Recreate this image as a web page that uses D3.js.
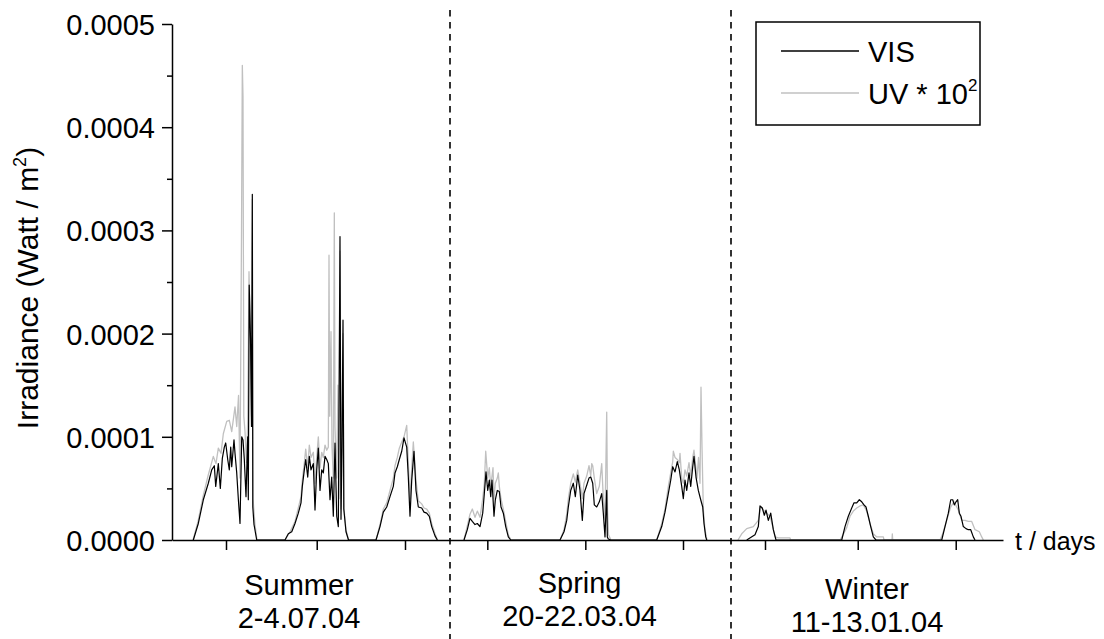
<!DOCTYPE html>
<html>
<head>
<meta charset="utf-8">
<script src="https://cdn.jsdelivr.net/npm/d3@7"></script>
<style>
  html, body { margin: 0; padding: 0; background: #fff; }
  svg { display: block; font-family: "Liberation Sans", Arial, sans-serif; }
</style>
</head>
<body>
<svg id="chart" width="1104" height="639"></svg>
<script>
// Irradiance measured over three days in each season.
// Time t is in elapsed hours of plotted record (seasons concatenated),
// irradiance values are in µW/m² (10^-6 W/m²); UV values already multiplied by 10^2.

const summerVis = [
  [5.33,0],[6.58,16],[7.83,39],[9.08,55],[9.93,68],[10.58,72],[10.93,52],[11.58,74],[12.08,50],[12.58,79],
  [13.08,90],[13.43,94],[13.93,78],[14.33,68],[14.68,90],[14.93,71],[15.5,97],[15.75,84],[16.18,65],[16.58,40],
  [17.0,16],[17.43,100],[17.75,97],[18.08,78],[18.5,42],[18.93,100],[19.08,39],[19.3,247],[19.63,195],[19.88,110],
  [20.08,335],[20.2,32],[20.5,15],[21.18,0],
  [28.25,0],[29.08,6],[29.93,8],[30.75,16],[31.58,26],[32.25,36],[32.58,52],[33.08,68],[33.43,78],[33.93,61],
  [34.33,81],[34.75,68],[35.33,74],[35.75,29],[36.18,68],[36.58,89],[37.0,48],[37.43,68],[37.83,65],[38.25,81],
  [38.68,78],[39.08,74],[39.5,39],[39.93,61],[40.33,23],[40.75,94],[41.18,23],[41.58,13],[42.0,294],[42.25,20],
  [42.5,90],[42.75,213],[42.95,30],[43.5,8],[44.13,0],
  [51.0,0],[52.0,13],[52.83,27],[53.68,32],[54.5,42],[55.33,52],[55.75,65],[56.33,71],[56.83,78],[57.43,86],
  [58.0,99],[58.68,90],[59.08,61],[59.5,23],[59.93,58],[60.5,86],[61.0,48],[61.58,32],[62.43,31],[63.0,27],
  [63.68,26],[64.33,23],[64.93,13],[65.75,4],[66.33,0]
];

const summerUv = [
  [5.25,0],[6.5,18],[7.75,42],[9.0,62],[10.33,81],[11.0,74],[11.58,89],[12.25,84],[12.83,103],[13.68,115],
  [14.33,116],[14.93,105],[15.75,129],[16.18,110],[16.63,140],[17.0,60],[17.38,300],[17.58,460],[17.75,430],[17.95,120],
  [18.25,105],[18.63,75],[18.93,115],[19.25,260],[19.58,200],[19.88,120],[20.08,330],[20.25,40],[20.75,15],[21.25,0],
  [28.25,0],[29.5,8],[30.75,18],[31.5,30],[32.25,42],[32.58,58],[33.08,75],[33.43,88],[33.93,70],[34.33,92],
  [34.75,80],[35.33,85],[35.75,55],[36.18,80],[36.58,100],[37.0,70],[37.43,85],[37.83,80],[38.25,92],[38.68,87],
  [39.08,90],[39.25,276],[39.43,120],[39.75,202],[40.0,90],[40.33,60],[40.58,317],[40.75,110],[41.18,60],[41.5,150],
  [41.75,40],[42.0,280],[42.25,30],[42.5,100],[42.75,200],[43.0,30],[43.5,10],[44.13,0],
  [51.0,0],[52.0,15],[52.83,30],[53.68,36],[54.5,48],[55.33,60],[55.75,72],[56.33,80],[56.83,89],[57.43,95],
  [58.0,100],[58.68,111],[59.08,75],[59.5,40],[59.93,70],[60.33,95],[61.0,58],[61.58,38],[62.43,35],[63.0,31],
  [63.68,30],[64.33,26],[64.93,16],[65.75,6],[66.38,0]
];

const springVis = [
  [73.0,0],[73.83,10],[74.5,21],[75.08,18],[75.75,15],[76.33,16],[77.0,13],[77.68,26],[78.08,45],[78.5,66],
  [78.93,48],[79.33,58],[79.68,42],[80.0,58],[80.5,23],[80.83,39],[81.33,48],[81.83,47],[82.25,32],[82.83,26],
  [83.43,13],[84.08,3],[84.68,0],
  [97.0,0],[98.0,8],[98.68,19],[99.08,32],[99.68,48],[100.33,55],[100.83,42],[101.43,63],[102.0,48],[102.58,19],
  [103.0,45],[103.68,53],[104.25,60],[104.68,61],[105.18,55],[105.58,34],[106.18,32],[106.83,37],[107.43,45],[107.83,26],
  [108.25,3],[108.68,48],[108.83,3],[109.08,1],[109.68,0],
  [121.18,0],[122.43,13],[123.25,27],[124.08,45],[124.68,58],[125.18,71],[125.75,66],[126.33,76],[126.83,68],[127.43,52],
  [127.83,40],[128.25,58],[128.68,48],[129.25,65],[129.68,52],[130.18,71],[130.5,81],[131.0,61],[131.58,48],[132.18,39],
  [132.68,32],[133.0,16],[133.43,3],[133.68,0]
];

const springUv = [
  [73.0,0],[73.83,14],[74.5,25],[75.08,30],[75.75,22],[76.33,28],[77.0,22],[77.68,40],[78.08,55],[78.43,86],
  [78.93,60],[79.33,70],[79.68,52],[80.0,62],[80.25,70],[80.5,40],[80.83,55],[81.33,60],[81.58,65],[81.83,52],
  [82.25,40],[82.83,30],[83.43,18],[84.08,5],[84.75,0],
  [97.0,0],[98.0,10],[98.68,25],[99.08,40],[99.68,55],[100.33,64],[100.83,56],[101.43,68],[102.0,55],[102.58,40],
  [103.0,55],[103.68,62],[104.25,72],[104.68,62],[104.93,74],[105.18,72],[105.58,60],[106.18,45],[106.83,52],[107.43,74],
  [107.83,40],[108.25,20],[108.68,124],[108.88,30],[109.13,5],[109.75,0],
  [121.18,0],[122.43,16],[123.25,30],[124.08,52],[124.68,65],[125.18,76],[125.33,86],[125.75,80],[126.33,78],[126.83,75],
  [127.0,84],[127.43,60],[127.83,55],[128.25,68],[128.68,62],[129.25,75],[129.68,62],[130.18,80],[130.5,87],[130.83,75],
  [131.25,60],[131.63,80],[132.0,55],[132.25,148],[132.5,90],[132.83,30],[133.25,10],[133.75,0]
];

const winterVis = [
  [143.68,0],[145.75,5],[146.58,13],[147.0,33],[147.58,31],[148.08,24],[148.5,29],[149.08,19],[149.68,26],[150.33,10],
  [151.0,0],
  [167.43,0],[168.25,13],[169.08,23],[169.93,31],[170.5,36],[171.18,36],[171.83,39],[172.43,37],[173.0,34],[173.5,32],
  [174.08,23],[174.68,13],[175.33,3],[176.0,0],
  [192.43,0],[193.25,13],[194.08,26],[194.68,39],[195.18,39],[195.58,34],[196.0,37],[196.43,39],[196.83,26],[197.25,23],
  [197.83,13],[198.5,11],[199.08,10],[199.68,10],[200.33,3],[200.75,0]
];

const winterUv = [
  [141.5,0],[142.43,6],[143.68,11],[145.33,13],[146.58,19],[147.18,32],[147.83,29],[148.68,26],[149.5,23],[150.18,13],
  [150.75,3],[151.58,2],[154.5,2],[154.63,0],
  [167.0,0],[167.75,5],[168.68,12],[169.5,23],[170.33,28],[171.18,31],[172.0,33],[172.83,34],[173.68,28],[174.5,16],
  [175.33,6],[176.18,3],[177.83,3],[178.0,0],[180.0,0],[180.08,6],[180.18,0],
  [192.0,0],[192.68,6],[193.68,19],[194.68,32],[195.5,37],[196.58,29],[197.43,19],[198.25,19],[199.08,18],[199.93,18],
  [200.75,10],[201.83,8],[202.43,3],[202.83,0]
];

// Noon of each measured day (x-axis ticks) and season boundaries
const dayTicks = [13.5, 36.18, 58.25, 78.83, 103.33, 127.75, 148.25, 171.43, 195.93];
const seasonBounds = [69.5, 139.75];
const seasonNames = ["Summer", "Spring", "Winter"];
const seasonDates = ["2-4.07.04", "20-22.03.04", "11-13.01.04"];
const seasonCenters = [31.75, 101.9, 173.75];

// y ticks in µW/m², labelled in W/m²
const yTicks = [0, 100, 200, 300, 400, 500];
const yTickLabels = ["0.0000", "0.0001", "0.0002", "0.0003", "0.0004", "0.0005"];
const yMinorTicks = [50, 150, 250, 350, 450];

const svg = d3.select("#chart");
const margin = { left: 172, right: 101, top: 24, bottom: 99 };
const W = 1104, H = 639;

const x = d3.scaleLinear().domain([0, 207.75]).range([margin.left, W - margin.right]);
const y = d3.scaleLinear().domain([0, 500]).range([H - margin.bottom, margin.top]);

const line = d3.line().x(d => x(d[0])).y(d => y(d[1]));

// season separators
svg.append("g").selectAll("line").data(seasonBounds).join("line")
  .attr("x1", d => x(d)).attr("x2", d => x(d))
  .attr("y1", 10).attr("y2", H)
  .attr("stroke", "#000").attr("stroke-width", 1.6)
  .attr("stroke-dasharray", "6.5,5.5");

// UV (grey) below VIS (black)
const uvSeries = [summerUv, springUv, winterUv];
const visSeries = [summerVis, springVis, winterVis];
svg.append("g").selectAll("path").data(uvSeries).join("path")
  .attr("d", line).attr("fill", "none").attr("stroke", "#c0c0c0").attr("stroke-width", 1.3)
  .attr("stroke-linejoin", "round");
svg.append("g").selectAll("path").data(visSeries).join("path")
  .attr("d", line).attr("fill", "none").attr("stroke", "#000").attr("stroke-width", 1.2)
  .attr("stroke-linejoin", "round");

// y axis: major ticks with labels, minor ticks without
const yAxis = svg.append("g").attr("transform", `translate(${margin.left},0)`)
  .call(d3.axisLeft(y).tickValues(yTicks).tickSize(10).tickSizeOuter(0)
    .tickFormat((d, i) => yTickLabels[i]));
svg.append("g").attr("transform", `translate(${margin.left},0)`)
  .call(d3.axisLeft(y).tickValues(yMinorTicks).tickSize(5).tickFormat(""))
  .call(g => g.select(".domain").remove());
yAxis.selectAll("text").attr("font-size", 29).attr("font-family", "Liberation Sans, Arial, sans-serif")
  .attr("fill", "#000").attr("x", -17).attr("dy", "0.36em");

// x axis: ticks at each day
svg.append("g").attr("transform", `translate(0,${y(0)})`)
  .call(d3.axisBottom(x).tickValues(dayTicks).tickSize(10).tickSizeOuter(0).tickFormat(""));

svg.selectAll(".domain, .tick line").attr("stroke", "#000").attr("stroke-width", 1.5);

// axis titles
svg.append("text")
  .attr("transform", `translate(38,${(y(0) + y(500)) / 2 + 6}) rotate(-90)`)
  .attr("text-anchor", "middle").attr("font-size", 30).attr("fill", "#000")
  .call(t => {
    t.append("tspan").text("Irradiance (Watt / m");
    t.append("tspan").text("2").attr("font-size", 18).attr("dy", -12);
    t.append("tspan").text(")").attr("dy", 12);
  });

svg.append("text").attr("x", x(207.75) + 12).attr("y", y(0) + 10)
  .attr("font-size", 25).attr("fill", "#000").text("t / days");

// season labels (name above date range)
const seasonBase = [595, 593, 599];
svg.append("g").selectAll("text").data(seasonNames).join("text")
  .attr("x", (d, i) => x(seasonCenters[i])).attr("y", (d, i) => seasonBase[i])
  .attr("text-anchor", "middle").attr("font-size", 29).attr("fill", "#000").text(d => d);
svg.append("g").selectAll("text").data(seasonDates).join("text")
  .attr("x", (d, i) => x(seasonCenters[i])).attr("y", (d, i) => seasonBase[i] + 33)
  .attr("text-anchor", "middle").attr("font-size", 29).attr("fill", "#000").text(d => d);

// legend
const legend = svg.append("g").attr("transform", "translate(756,22)");
legend.append("rect").attr("width", 224).attr("height", 103)
  .attr("fill", "#fff").attr("stroke", "#000").attr("stroke-width", 1.5);
const legendItems = [
  { label: "VIS", color: "#000" },
  { label: "UV * 10", sup: "2", color: "#c0c0c0" }
];
legendItems.forEach((item, i) => {
  const cy = 29 + i * 42;
  legend.append("line").attr("x1", 25).attr("x2", 103).attr("y1", cy).attr("y2", cy)
    .attr("stroke", item.color).attr("stroke-width", 1.3);
  const t = legend.append("text").attr("x", 112).attr("y", cy + 10.5)
    .attr("font-size", 29).attr("fill", "#000");
  t.append("tspan").text(item.label);
  if (item.sup) t.append("tspan").text(item.sup).attr("font-size", 17).attr("dy", -13);
});
</script>
</body>
</html>
